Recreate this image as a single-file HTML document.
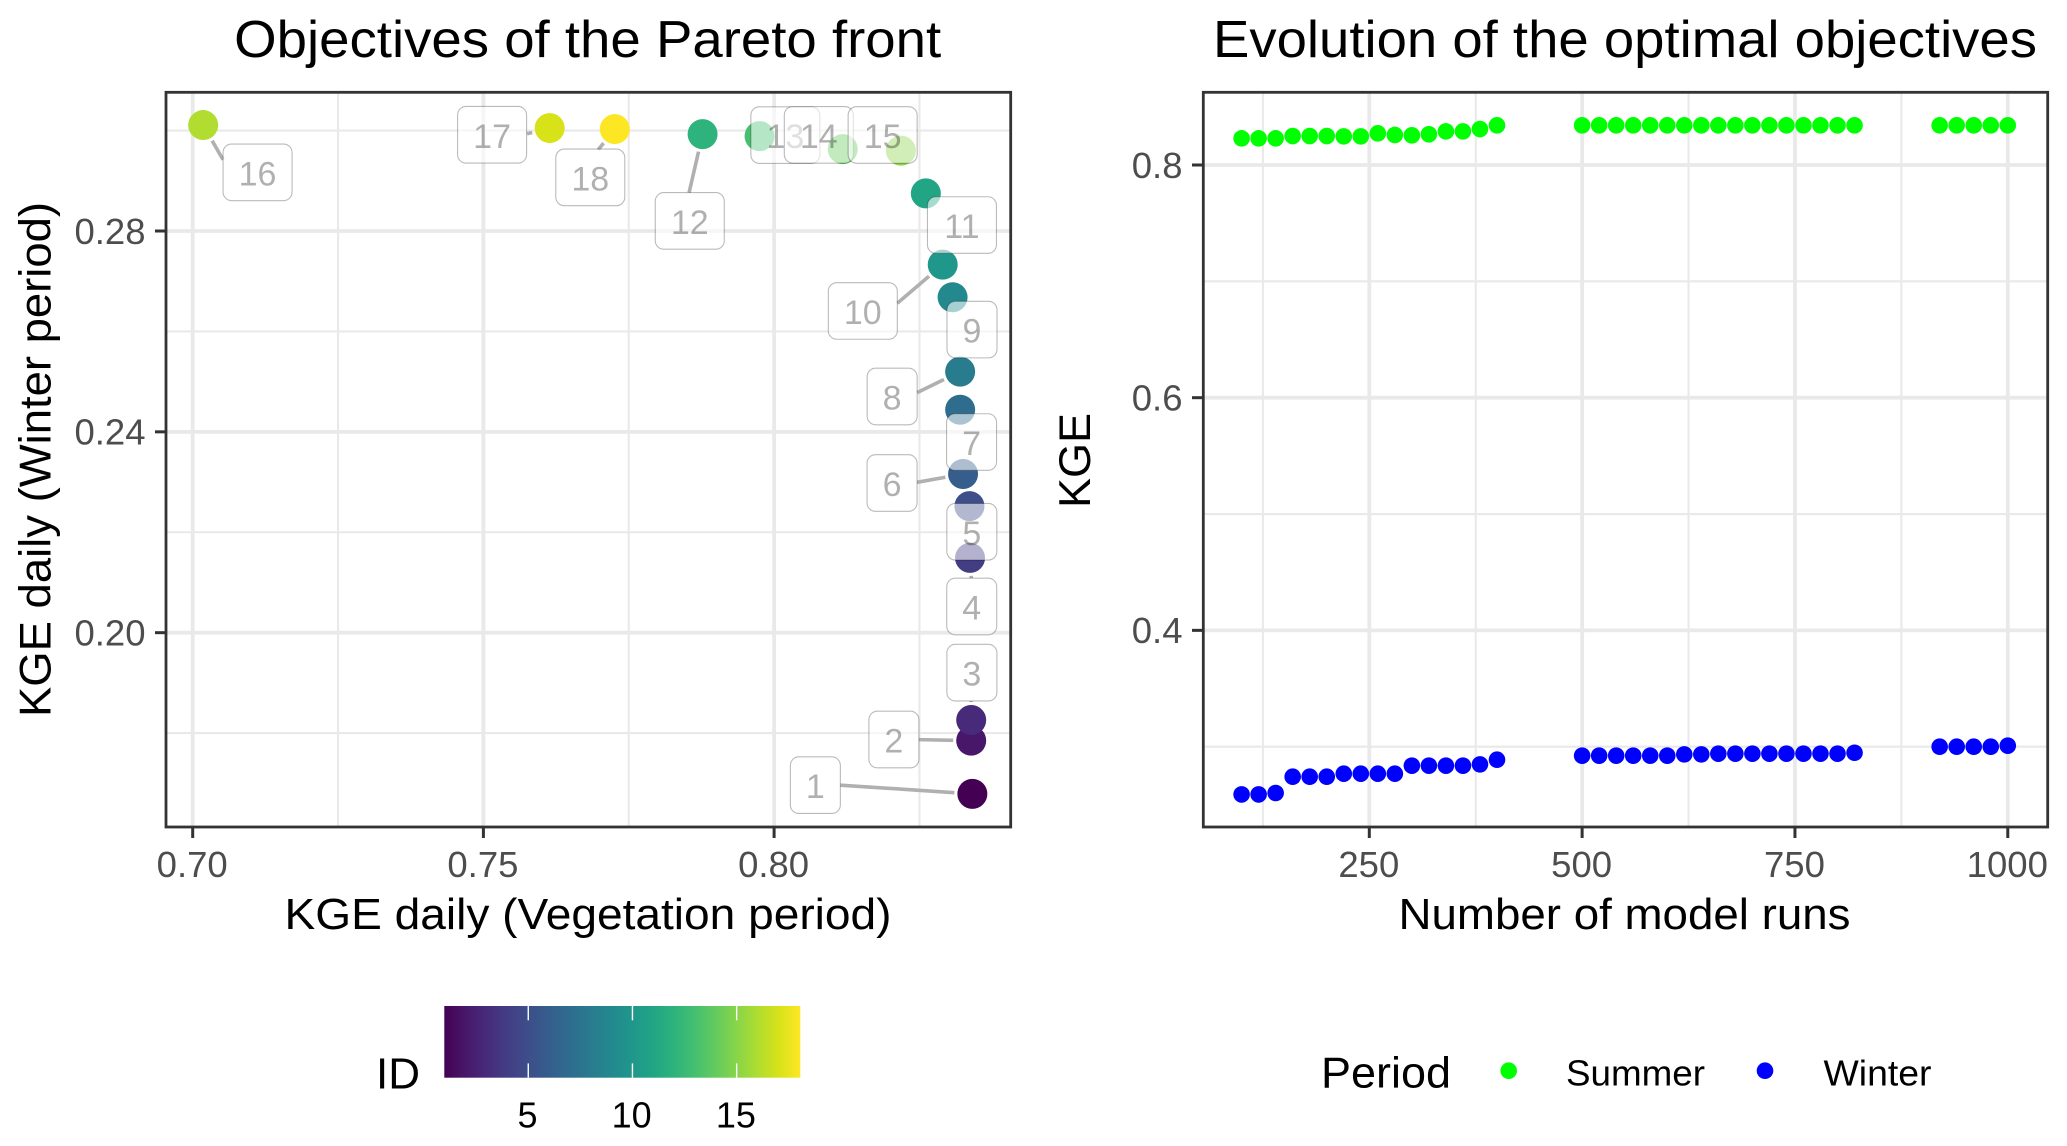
<!DOCTYPE html>
<html lang="en">
<head>
<meta charset="utf-8">
<title>Objectives of the Pareto front</title>
<style>
html,body{margin:0;padding:0;background:#fff;width:2067px;height:1146px;overflow:hidden}
svg{display:block}
text{font-family:"Liberation Sans",Arial,sans-serif}
</style>
</head>
<body>
<svg id="figure" xmlns="http://www.w3.org/2000/svg" width="2067" height="1146" viewBox="0 0 2067 1146">
  <defs>
    <linearGradient id="viridis-ramp" x1="0" x2="1" y1="0" y2="0"></linearGradient>
  </defs>
  <rect x="0" y="0" width="2067" height="1146" fill="#ffffff"/>

  <g id="left-panel">
    <g id="left-grid"></g>
    <g id="left-points"></g>
    <g id="left-labels"></g>
    <rect x="166" y="92.3" width="844.7" height="734.7" fill="none" stroke="#333333" stroke-width="2.8"/>
    <g id="left-axes"></g>
  </g>

  <g id="right-panel">
    <g id="right-grid"></g>
    <g id="right-points"></g>
    <rect x="1203.3" y="92.3" width="844.4" height="734.7" fill="none" stroke="#333333" stroke-width="2.8"/>
    <g id="right-axes"></g>
  </g>

  <text x="234.2" y="57" font-size="52" fill="#000" textLength="707" lengthAdjust="spacingAndGlyphs">Objectives of the Pareto front</text>
  <text x="1213" y="57" font-size="52" fill="#000" textLength="824" lengthAdjust="spacingAndGlyphs">Evolution of the optimal objectives</text>
  <text x="284.5" y="929" font-size="44" fill="#000" textLength="607" lengthAdjust="spacingAndGlyphs">KGE daily (Vegetation period)</text>
  <text x="1398.5" y="929" font-size="44" fill="#000" textLength="452" lengthAdjust="spacingAndGlyphs">Number of model runs</text>
  <text transform="translate(50.7 717) rotate(-90)" font-size="44.5" fill="#000" textLength="515" lengthAdjust="spacingAndGlyphs">KGE daily (Winter period)</text>
  <text transform="translate(1090 508) rotate(-90)" font-size="44.5" fill="#000" textLength="95" lengthAdjust="spacingAndGlyphs">KGE</text>

  <g id="id-legend">
    <text x="376" y="1088.3" font-size="44" fill="#000">ID</text>
    <rect x="444.3" y="1006" width="356" height="71.7" fill="url(#viridis-ramp)"/>
    <g id="id-legend-ticks"></g>
  </g>

  <g id="period-legend">
    <text x="1321" y="1087.5" font-size="44" fill="#000" textLength="130" lengthAdjust="spacingAndGlyphs">Period</text>
    <circle cx="1508.7" cy="1070.7" r="8.3" fill="#00ff00"/>
    <text x="1566" y="1085.7" font-size="36" fill="#000" textLength="139" lengthAdjust="spacingAndGlyphs">Summer</text>
    <circle cx="1765" cy="1070.7" r="8.3" fill="#0000ff"/>
    <text x="1823.5" y="1085.7" font-size="36" fill="#000" textLength="108" lengthAdjust="spacingAndGlyphs">Winter</text>
  </g>
</svg>

<script>
// ---- Pareto front data (one entry per solution, in ID order) ----
const paretoIds = [1, 2, 3, 4, 5, 6, 7, 8, 9, 10, 11, 12, 13, 14, 15, 16, 17, 18];
const kgeVegetation = [0.8341, 0.8339, 0.8339, 0.8337, 0.8336, 0.8325, 0.8320, 0.8320, 0.8307, 0.8290, 0.8261, 0.7877, 0.7975, 0.8118, 0.8218, 0.7018, 0.7614, 0.7726];
const kgeWinterPeriod = [0.1679, 0.1785, 0.1826, 0.2149, 0.2252, 0.2316, 0.2444, 0.2520, 0.2668, 0.2733, 0.2875, 0.2993, 0.2989, 0.2963, 0.2960, 0.3011, 0.3005, 0.3003];
const paretoXMajorTicks = [0.70, 0.75, 0.80];
const paretoXMinorTicks = [0.725, 0.775, 0.825];
const paretoYMajorTicks = [0.20, 0.24, 0.28];
const paretoYMinorTicks = [0.18, 0.22, 0.26, 0.30];
const colorbarTicks = [5, 10, 15];

// ---- Evolution data ----
const modelRuns = [100, 120, 140, 160, 180, 200, 220, 240, 260, 280, 300, 320, 340, 360, 380, 400,
  500, 520, 540, 560, 580, 600, 620, 640, 660, 680, 700, 720, 740, 760, 780, 800, 820,
  920, 940, 960, 980, 1000];
const kgeSummer = [0.8229, 0.8229, 0.8229, 0.8249, 0.8249, 0.8249, 0.8246, 0.8246, 0.8272, 0.8258, 0.8255, 0.8264, 0.8289, 0.8289, 0.8309, 0.8341,
  0.8341, 0.8341, 0.8341, 0.8341, 0.8341, 0.8341, 0.8341, 0.8341, 0.8341, 0.8341, 0.8341, 0.8341, 0.8341, 0.8341, 0.8341, 0.8341, 0.8341,
  0.8341, 0.8341, 0.8341, 0.8341, 0.8341];
const kgeWinter = [0.2590, 0.2590, 0.2602, 0.2742, 0.2742, 0.2742, 0.2768, 0.2768, 0.2768, 0.2768, 0.2837, 0.2837, 0.2837, 0.2837, 0.2848, 0.2888,
  0.2923, 0.2923, 0.2923, 0.2923, 0.2923, 0.2923, 0.2934, 0.2934, 0.2940, 0.2940, 0.2940, 0.2940, 0.2940, 0.2940, 0.2940, 0.2940, 0.2948,
  0.3000, 0.3000, 0.3000, 0.3000, 0.3009];
const runsMajorTicks = [250, 500, 750, 1000];
const runsMinorTicks = [125, 375, 625, 875];
const kgeMajorTicks = [0.4, 0.6, 0.8];
const kgeMinorTicks = [0.3, 0.5, 0.7];

// ---- Scales ----
function xPareto(v) { return 192.7 + (v - 0.70) * 5814; }
function yPareto(v) { return 231 + (0.28 - v) * 5021; }
function xRuns(v) { return 1369.3 + (v - 250) * 0.8513; }
function yKge(v) { return 165 + (0.8 - v) * 1163.4; }
function xColorbar(v) { return 444.9 + (v - 1) * 20.84; }

const viridisRamp = ['#440154', '#481769', '#472A7A', '#433D84', '#3D4E8A', '#355E8D', '#2E6D8E', '#297B8E', '#23898E', '#1F978B', '#21A585', '#2EB37C', '#46C06F', '#65CB5E', '#89D548', '#B0DD2F', '#D8E219', '#FDE725'];
function colorForId(id) {
  const i = Math.max(0, Math.min(viridisRamp.length - 1, Math.round(id - 1)));
  return viridisRamp[i];
}

// Repel layout of labels, relative to each point: box offset and leader end.
const repelBox = {1:[-182,-37],2:[-102.3,-29.4],3:[-24.3,-75.7],4:[-23.3,20.3],5:[-22.6,-2.7],6:[-96,-19.3],7:[-13.6,4],8:[-93,-3.4],9:[-5.6,4],10:[-114.4,18],11:[1.6,3.4],12:[-47.3,58.5],13:[-8.7,-29.3],14:[-58.4,-42.6],15:[-52.7,-44],16:[19.9,19],17:[-92.1,-21.6],18:[-59,20]};
const repelLeader = {1:[-132,-8.7],2:[-52.3,-1],3:[0,-19],4:[1.3,20.3],6:[-46,8.3],8:[-43,21],10:[-45.4,38.6],12:[-13.5,58.5],16:[19.9,34.7],17:[-22.6,5.7],18:[-16.6,20.7]};

const NS = 'http://www.w3.org/2000/svg';
function svgEl(tag, attrs, parentId) {
  const el = document.createElementNS(NS, tag);
  for (const k in attrs) el.setAttribute(k, attrs[k]);
  document.getElementById(parentId).appendChild(el);
  return el;
}

// Colorbar gradient
viridisRamp.forEach(function (c, i) {
  svgEl('stop', { offset: (i / (viridisRamp.length - 1)), 'stop-color': c }, 'viridis-ramp');
});

const MAJOR_W = 3.8, MINOR_W = 2.1, GRID = '#E9E9E9', TICK = '#333333', TICK_TEXT = '#4D4D4D', TICK_FS = 36.5;

// ---- Pareto grid ----
paretoXMinorTicks.forEach(function (v) {
  const el = svgEl('line', { x1: xPareto(v), x2: xPareto(v), y1: 92.3, y2: 827, stroke: GRID, 'stroke-width': MINOR_W }, 'left-grid');
  
  
});
paretoYMinorTicks.forEach(function (v) {
  const el = svgEl('line', { x1: 166, x2: 1010.7, y1: yPareto(v), y2: yPareto(v), stroke: GRID, 'stroke-width': MINOR_W }, 'left-grid');
  
  
});
paretoXMajorTicks.forEach(function (v) {
  const x = xPareto(v);
  const g = svgEl('line', { x1: x, x2: x, y1: 92.3, y2: 827, stroke: GRID, 'stroke-width': MAJOR_W }, 'left-grid');
  
  
  const t = svgEl('line', { x1: x, x2: x, y1: 827, y2: 838, stroke: TICK, 'stroke-width': 3 }, 'left-axes');
  
  
  const l = svgEl('text', { x: x - 0.5, y: 877, 'text-anchor': 'middle', 'font-size': TICK_FS, fill: TICK_TEXT }, 'left-axes');
  
  
  l.textContent = v.toFixed(2);
});
paretoYMajorTicks.forEach(function (v) {
  const y = yPareto(v);
  const g = svgEl('line', { x1: 166, x2: 1010.7, y1: y, y2: y, stroke: GRID, 'stroke-width': MAJOR_W }, 'left-grid');
  
  
  const t = svgEl('line', { x1: 155, x2: 166, y1: y, y2: y, stroke: TICK, 'stroke-width': 3 }, 'left-axes');
  
  
  const l = svgEl('text', { x: 145.5, y: y + 12.8, 'text-anchor': 'end', 'font-size': TICK_FS, fill: TICK_TEXT }, 'left-axes');
  
  
  l.textContent = v.toFixed(2);
});

// ---- Pareto points ----
paretoIds.forEach(function (id, i) {
  const el = svgEl('circle', { cx: xPareto(kgeVegetation[i]), cy: yPareto(kgeWinterPeriod[i]), r: 15, fill: colorForId(id) }, 'left-points');
  
  
});

// ---- Repelled labels (drawn in ID order so later boxes veil earlier ones) ----
paretoIds.forEach(function (id, i) {
  const px = xPareto(kgeVegetation[i]);
  const py = yPareto(kgeWinterPeriod[i]);
  const lead = repelLeader[id];
  if (lead) {
    const len = Math.hypot(lead[0], lead[1]);
    const start = Math.min(18, len);
    const s = svgEl('line', {
      x1: px + lead[0] * start / len, y1: py + lead[1] * start / len,
      x2: px + lead[0], y2: py + lead[1],
      stroke: '#B0B0B0', 'stroke-width': 3.6
    }, 'left-labels');
    
    
  }
  const w = id > 9 ? 69 : 50;
  const h = 56.6;
  const bx = px + repelBox[id][0];
  const by = py + repelBox[id][1];
  const r = svgEl('rect', {
    x: bx, y: by, width: w, height: h, rx: 8.5, ry: 8.5,
    fill: 'rgba(255,255,255,0.6)', stroke: 'rgba(0,0,0,0.27)', 'stroke-width': 1.1
  }, 'left-labels');
  
  
  const t = svgEl('text', {
    x: bx + w / 2, y: by + h / 2 + 13, 'text-anchor': 'middle', 'font-size': 34, fill: 'rgba(0,0,0,0.31)'
  }, 'left-labels');
  
  
  t.textContent = String(id);
});

// ---- Evolution grid and axes ----
runsMinorTicks.forEach(function (v) {
  const el = svgEl('line', { x1: xRuns(v), x2: xRuns(v), y1: 92.3, y2: 827, stroke: GRID, 'stroke-width': MINOR_W }, 'right-grid');
  
  
});
kgeMinorTicks.forEach(function (v) {
  const el = svgEl('line', { x1: 1203.3, x2: 2047.7, y1: yKge(v), y2: yKge(v), stroke: GRID, 'stroke-width': MINOR_W }, 'right-grid');
  
  
});
runsMajorTicks.forEach(function (v) {
  const x = xRuns(v);
  const g = svgEl('line', { x1: x, x2: x, y1: 92.3, y2: 827, stroke: GRID, 'stroke-width': MAJOR_W }, 'right-grid');
  
  
  const t = svgEl('line', { x1: x, x2: x, y1: 827, y2: 838, stroke: TICK, 'stroke-width': 3 }, 'right-axes');
  
  
  const l = svgEl('text', { x: x - 0.5, y: 877, 'text-anchor': 'middle', 'font-size': TICK_FS, fill: TICK_TEXT }, 'right-axes');
  
  
  l.textContent = String(v);
});
kgeMajorTicks.forEach(function (v) {
  const y = yKge(v);
  const g = svgEl('line', { x1: 1203.3, x2: 2047.7, y1: y, y2: y, stroke: GRID, 'stroke-width': MAJOR_W }, 'right-grid');
  
  
  const t = svgEl('line', { x1: 1192, x2: 1203.3, y1: y, y2: y, stroke: TICK, 'stroke-width': 3 }, 'right-axes');
  
  
  const l = svgEl('text', { x: 1182.5, y: y + 12.8, 'text-anchor': 'end', 'font-size': TICK_FS, fill: TICK_TEXT }, 'right-axes');
  
  
  l.textContent = v.toFixed(1);
});

// ---- Evolution points ----
modelRuns.forEach(function (run, i) {
  const a = svgEl('circle', { cx: xRuns(run), cy: yKge(kgeSummer[i]), r: 8.3, fill: '#00ff00' }, 'right-points');
  
  
  const b = svgEl('circle', { cx: xRuns(run), cy: yKge(kgeWinter[i]), r: 8.3, fill: '#0000ff' }, 'right-points');
  
  
});

// ---- Colorbar ticks ----
colorbarTicks.forEach(function (v) {
  const x = xColorbar(v);
  const t1 = svgEl('line', { x1: x, x2: x, y1: 1006, y2: 1020.3, stroke: '#ffffff', 'stroke-width': 1.4 }, 'id-legend-ticks');
  
  
  const t2 = svgEl('line', { x1: x, x2: x, y1: 1063.4, y2: 1077.7, stroke: '#ffffff', 'stroke-width': 1.4 }, 'id-legend-ticks');
  
  
  const l = svgEl('text', { x: x - 0.8, y: 1127.7, 'text-anchor': 'middle', 'font-size': 36, fill: '#000' }, 'id-legend-ticks');
  
  
  l.textContent = String(v);
});
</script>
</body>
</html>
